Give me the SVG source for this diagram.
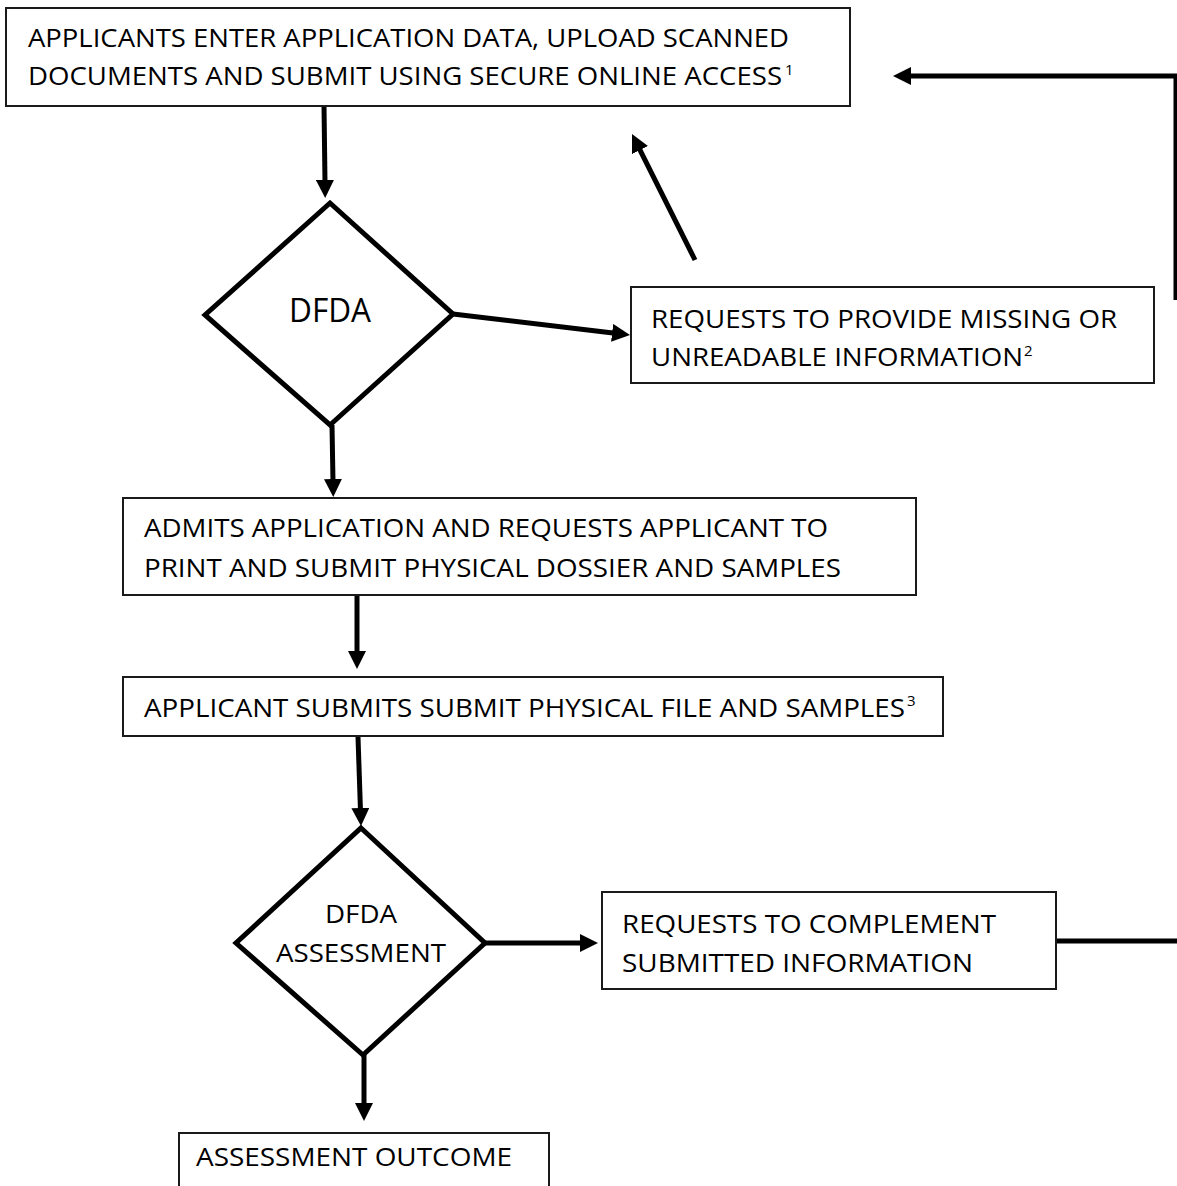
<svg xmlns="http://www.w3.org/2000/svg" width="1177" height="1186" viewBox="0 0 1177 1186">
<defs>
<style>
.box{fill:#fff;stroke:#1a1a1a;stroke-width:2}
.dia{fill:#fff;stroke:#000;stroke-width:5;stroke-linejoin:miter}
.t{font-family:"Open Sans","Liberation Sans",sans-serif;font-size:26px;fill:#000}
.sup{font-family:"Open Sans","Liberation Sans",sans-serif;font-size:15px;fill:#000}
.big{font-family:"Open Sans","Liberation Sans",sans-serif;font-size:33px;fill:#000}
.c{fill:none;stroke:#000;stroke-width:5}
</style>
<marker id="ah" viewBox="0 0 18 18" markerWidth="18" markerHeight="18" refX="3" refY="9" orient="auto" markerUnits="userSpaceOnUse">
<path d="M0,0 L18,9 L0,18 z" fill="#000"/>
</marker>
</defs>
<rect width="1177" height="1186" fill="#fff"/>

<g id="connectors">
<path class="c" d="M324,106 L325,183" marker-end="url(#ah)"/>
<path class="c" d="M453,314 L615.1,333.2" marker-end="url(#ah)"/>
<path class="c" d="M695,260 L638.7,147.4" marker-end="url(#ah)"/>
<path class="c" d="M1176,300 V76 H908" marker-end="url(#ah)"/>
<path class="c" d="M332,425 L333,482" marker-end="url(#ah)"/>
<path class="c" d="M357,596 L357,654" marker-end="url(#ah)"/>
<path class="c" d="M358,737 L360.5,811" marker-end="url(#ah)"/>
<path class="c" d="M485,943 L583,943" marker-end="url(#ah)"/>
<path class="c" d="M1056,941 H1177"/>
<path class="c" d="M364,1055 L364,1106" marker-end="url(#ah)"/>
</g>

<g id="node-apply">
<rect class="box" x="6" y="8" width="844" height="98"/>
<text class="t" x="28" y="47" textLength="761" lengthAdjust="spacingAndGlyphs">APPLICANTS ENTER APPLICATION DATA, UPLOAD SCANNED</text>
<text class="t" x="28" y="85" textLength="754" lengthAdjust="spacingAndGlyphs">DOCUMENTS AND SUBMIT USING SECURE ONLINE ACCESS</text>
<text class="sup" x="785" y="75">1</text>
</g>

<g id="node-dfda">
<path class="dia" d="M330,203 L453,314 L330,425 L205,315 Z"/>
<text class="big" x="330" y="322" text-anchor="middle" textLength="82" lengthAdjust="spacingAndGlyphs">DFDA</text>
</g>

<g id="node-missing">
<rect class="box" x="631" y="287" width="523" height="96"/>
<text class="t" x="651" y="328" textLength="466" lengthAdjust="spacingAndGlyphs">REQUESTS TO PROVIDE MISSING OR</text>
<text class="t" x="651" y="366" textLength="372" lengthAdjust="spacingAndGlyphs">UNREADABLE INFORMATION</text>
<text class="sup" x="1024" y="356">2</text>
</g>

<g id="node-admits">
<rect class="box" x="123" y="498" width="793" height="97"/>
<text class="t" x="144" y="537" textLength="684" lengthAdjust="spacingAndGlyphs">ADMITS APPLICATION AND REQUESTS APPLICANT TO</text>
<text class="t" x="144" y="577" textLength="697" lengthAdjust="spacingAndGlyphs">PRINT AND SUBMIT PHYSICAL DOSSIER AND SAMPLES</text>
</g>

<g id="node-submit">
<rect class="box" x="123" y="677" width="820" height="59"/>
<text class="t" x="144" y="717" textLength="761" lengthAdjust="spacingAndGlyphs">APPLICANT SUBMITS SUBMIT PHYSICAL FILE AND SAMPLES</text>
<text class="sup" x="907" y="706">3</text>
</g>

<g id="node-assessment">
<path class="dia" d="M361,828 L485,943 L363,1055 L236,943 Z"/>
<text class="t" x="361" y="923" text-anchor="middle" textLength="72" lengthAdjust="spacingAndGlyphs">DFDA</text>
<text class="t" x="361" y="962" text-anchor="middle" textLength="170" lengthAdjust="spacingAndGlyphs">ASSESSMENT</text>
</g>

<g id="node-complement">
<rect class="box" x="602" y="892" width="454" height="97"/>
<text class="t" x="622" y="933" textLength="374" lengthAdjust="spacingAndGlyphs">REQUESTS TO COMPLEMENT</text>
<text class="t" x="622" y="972" textLength="351" lengthAdjust="spacingAndGlyphs">SUBMITTED INFORMATION</text>
</g>

<g id="node-outcome">
<rect class="box" x="179" y="1133" width="370" height="80"/>
<text class="t" x="196" y="1166" textLength="316" lengthAdjust="spacingAndGlyphs">ASSESSMENT OUTCOME</text>
</g>
</svg>
